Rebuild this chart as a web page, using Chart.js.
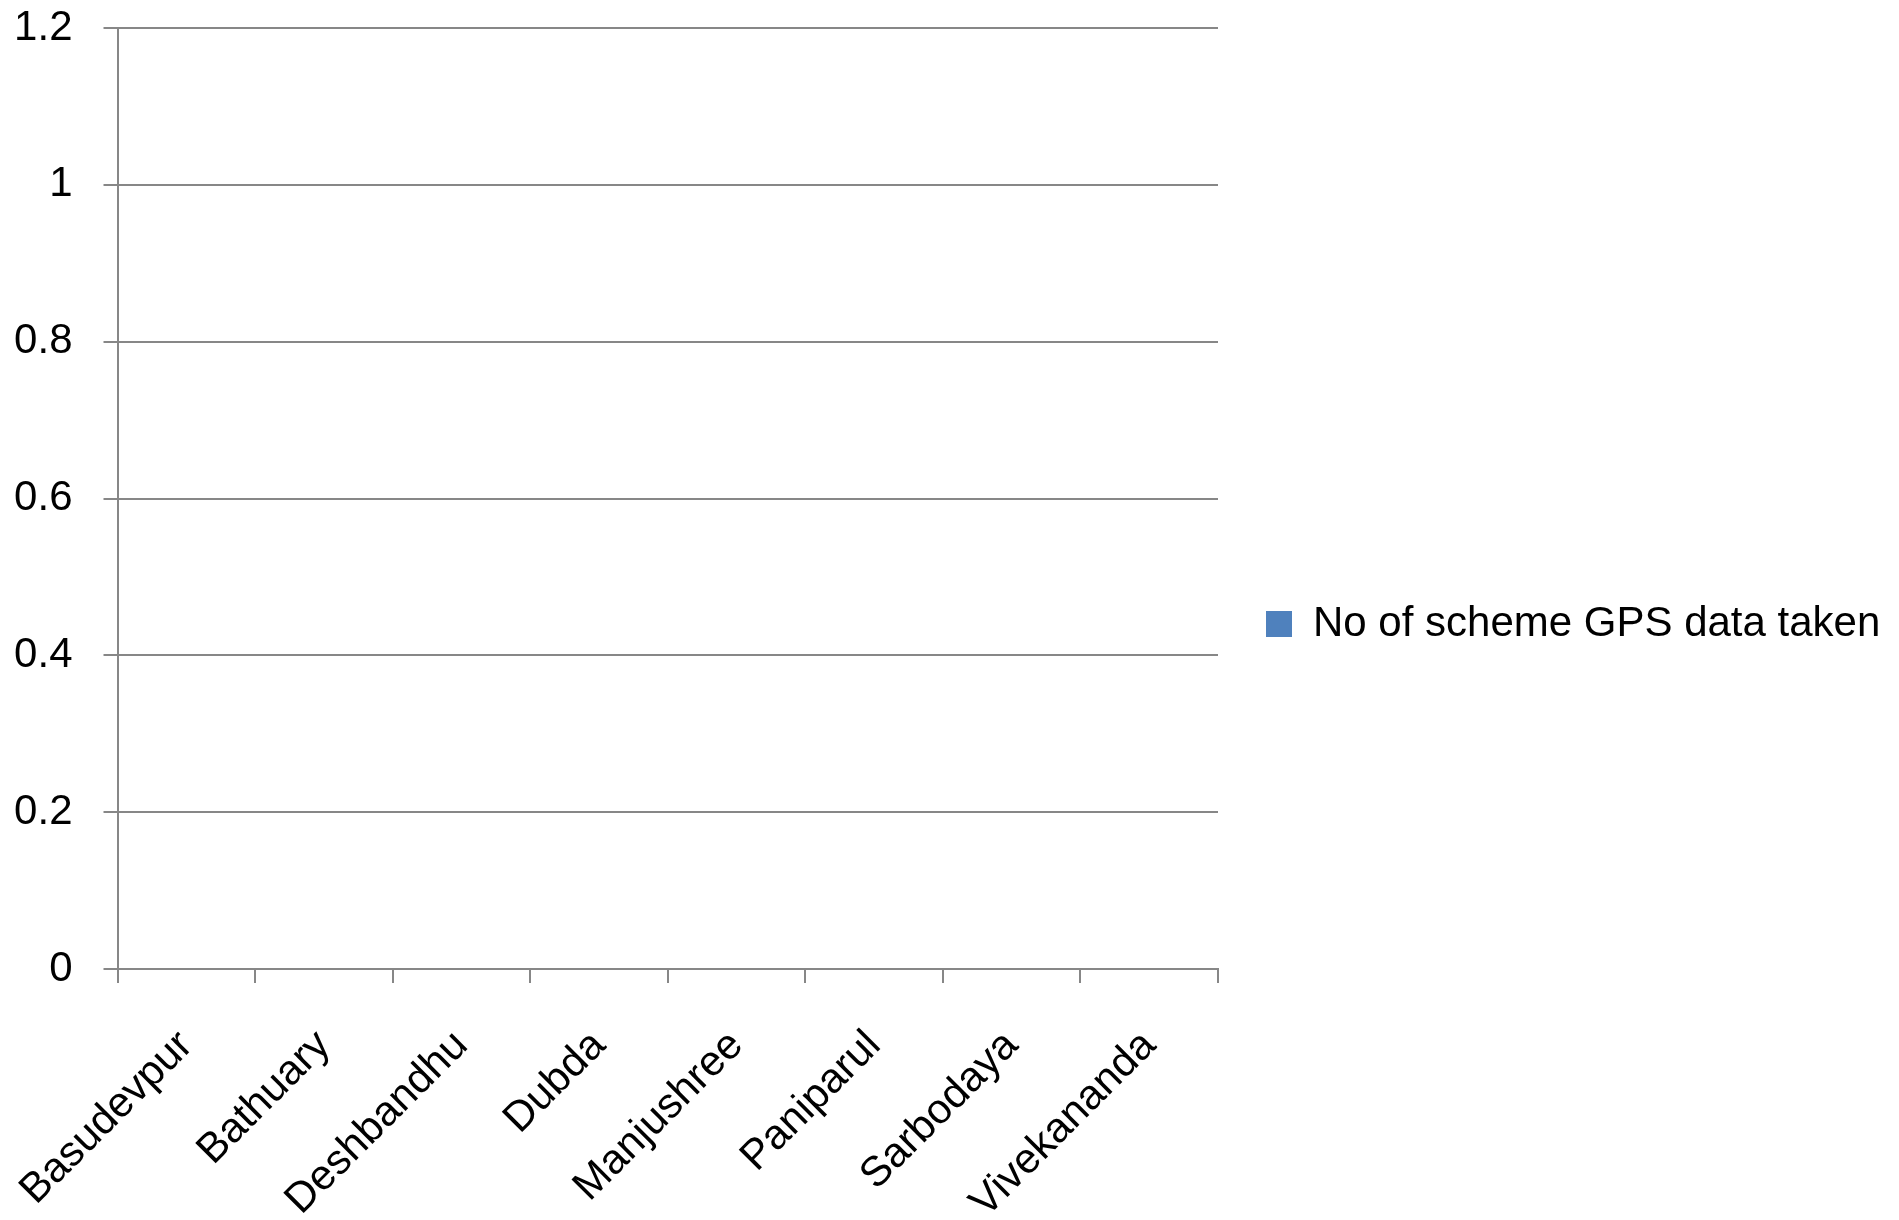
<!DOCTYPE html>
<html>
  <head>
    <style>
      html, body { margin: 0; padding: 0; background: #fff; }
      #wrap { width: 1899px; height: 1220px; }
    </style>
    <script src="https://cdn.jsdelivr.net/npm/chart.js"></script>
  </head>
  <body>
    <div id="wrap"><canvas id="gpsChart"></canvas></div>

    <script>
      var schools = ['Basudevpur', 'Bathuary', 'Deshbandhu', 'Dubda', 'Manjushree', 'Paniparul', 'Sarbodaya', 'Vivekananda'];
      var gpsTaken = [0, 0, 0, 0, 0, 0, 0, 0];
      var seriesName = 'No of scheme GPS data taken';
      var yMin = 0, yMax = 1.2, yStep = 0.2;

      var axisGrey = '#878787';
      var font42 = { family: "'Liberation Sans', Arial, sans-serif", size: 42 };

      // keep the legend column a fixed width so the plot ends where the original does
      var legendWidthFix = {
        id: 'legendWidthFix',
        beforeLayout: function(chart) {
          var lg = chart.legend;
          if (lg && !lg._fixed) {
            var orig = lg.fit;
            lg.fit = function() {
              orig.call(this);
              this.width = 681;
            };
            lg._fixed = true;
          }
        }
      };

      var ctx = document.getElementById('gpsChart').getContext('2d');
      new Chart(ctx, {
        type: 'bar',
        data: {
          labels: schools,
          datasets: [{
            label: seriesName,
            data: gpsTaken,
            backgroundColor: '#4F81BD',
            borderWidth: 0
          }]
        },
        options: {
          responsive: true,
          maintainAspectRatio: false,
          animation: false,
          layout: { padding: { top: 28, bottom: 0, left: 0, right: 0 } },
          plugins: {
            tooltip: { enabled: false },
            legend: {
              position: 'right',
              labels: {
                boxWidth: 26,
                boxHeight: 26,
                padding: 48,
                color: '#000',
                font: font42
              }
            }
          },
          scales: {
            x: {
              grid: {
                offset: true,
                drawOnChartArea: false,
                drawTicks: true,
                tickLength: 14,
                color: axisGrey,
                lineWidth: 2
              },
              border: { color: axisGrey, width: 2 },
              ticks: {
                color: '#000',
                font: font42,
                minRotation: 45,
                maxRotation: 45,
                padding: 38,
                autoSkip: false
              },
              afterFit: function(scale) {
                scale.height = 251;
                scale.paddingLeft = 0;
                scale.paddingRight = 0;
              }
            },
            y: {
              min: yMin,
              max: yMax,
              grid: {
                color: axisGrey,
                lineWidth: 2,
                tickLength: 14
              },
              border: { color: axisGrey, width: 2 },
              ticks: {
                stepSize: yStep,
                color: '#000',
                font: font42,
                padding: 31,
                callback: function(v) { return String(Math.round(v * 10) / 10); }
              },
              afterFit: function(scale) {
                scale.width = 117.5;
                scale.paddingTop = 0;
                scale.paddingBottom = 0;
              }
            }
          }
        },
        plugins: [legendWidthFix]
      });
    </script>
  </body>
</html>
